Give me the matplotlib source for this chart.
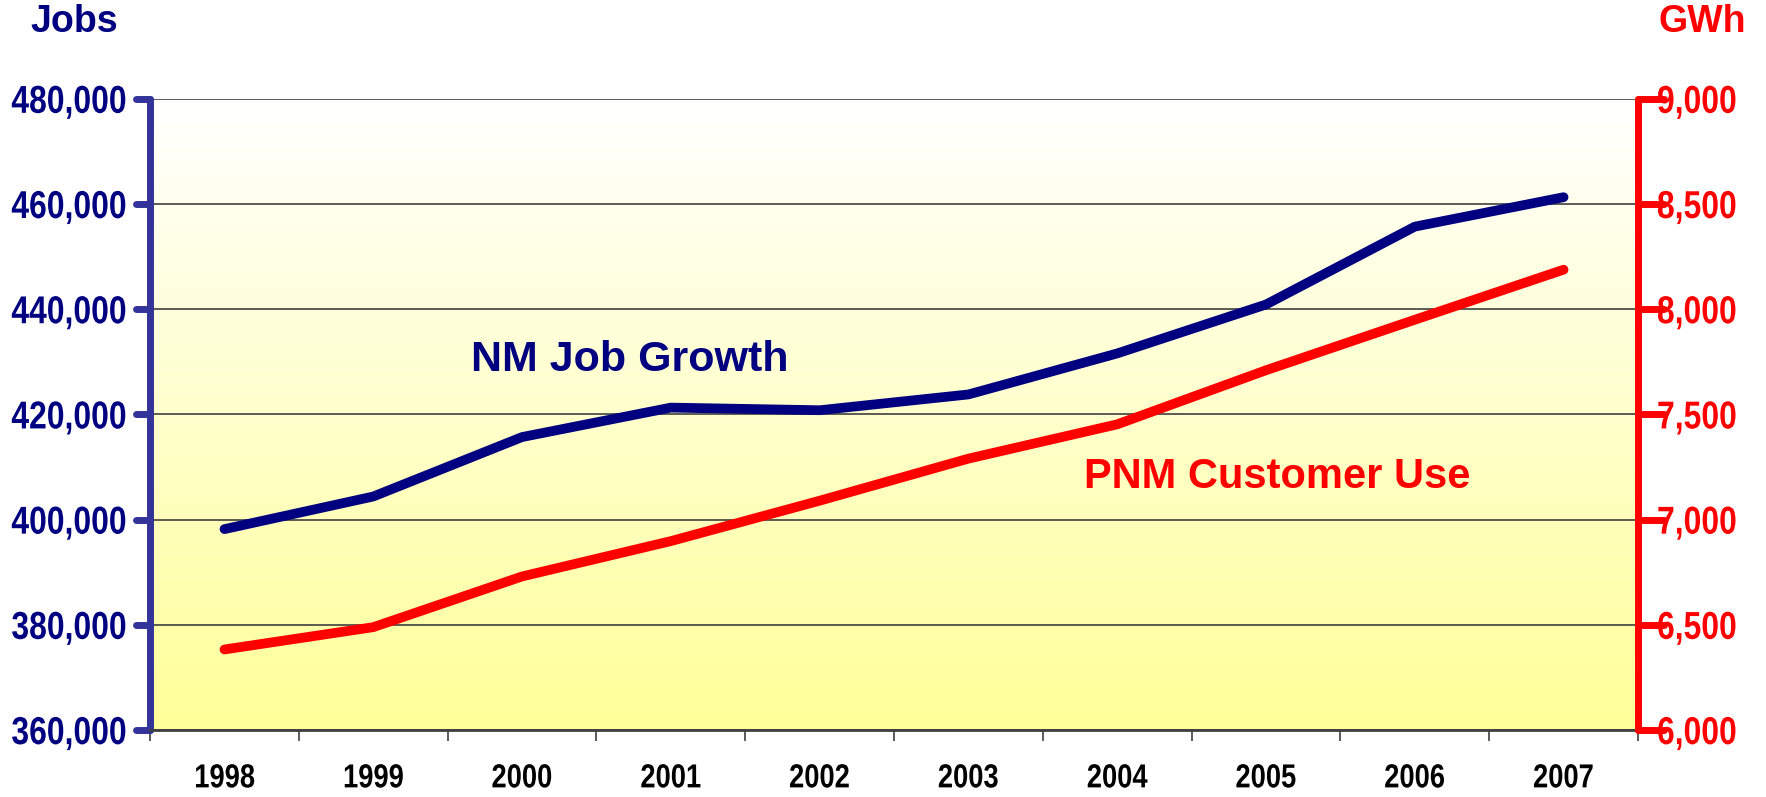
import numpy as np
import matplotlib
matplotlib.use("Agg")
import matplotlib.pyplot as plt
import matplotlib.lines as mlines
import matplotlib.patheffects as pe
from matplotlib.markers import MarkerStyle
from matplotlib.ticker import FuncFormatter
from matplotlib.transforms import Affine2D

years = ["1998", "1999", "2000", "2001", "2002", "2003", "2004", "2005", "2006", "2007"]
jobs = [398200, 404400, 415700, 421300, 420800, 423800, 431600, 440900, 455700, 461300]
gwh = [6383, 6489, 6730, 6898, 7090, 7290, 7453, 7710, 7950, 8188]

NAVY = "#000080"
AXBLUE = "#333399"
RED = "#FF0000"
FONT = ["Liberation Sans", "DejaVu Sans"]


class Squeeze(pe.AbstractPathEffect):
    """Narrow the glyphs horizontally (no Arial Narrow installed)."""

    def __init__(self, sx=0.82, anchor="left"):
        super().__init__()
        self.sx = sx
        self.anchor = anchor

    def draw_path(self, renderer, gc, tpath, affine, rgbFace=None):
        ext = tpath.get_extents()
        if self.anchor == "right":
            x0 = ext.x1
        elif self.anchor == "center":
            x0 = (ext.x0 + ext.x1) / 2
        else:
            x0 = ext.x0
        t = Affine2D().translate(-x0, 0).scale(self.sx, 1).translate(x0, 0) + affine
        renderer.draw_path(gc, tpath, t, rgbFace)


fig = plt.figure(figsize=(17.66, 7.97), dpi=100)
ax = fig.add_axes([0.085, 0.084, 0.8425, 0.792])
ax2 = ax.twinx()

x = np.arange(len(years))

# background gradient (white at top -> pale yellow at bottom)
grad = np.linspace(0, 1, 256).reshape(-1, 1)
top = np.array([1.0, 1.0, 1.0])
bot = np.array([1.0, 1.0, 0.6])
img = top + (bot - top) * grad[..., None]
ax.imshow(img, extent=[0, 1, 0, 1], transform=ax.transAxes,
          aspect="auto", origin="upper", zorder=0)

ax.plot(x, jobs, color=NAVY, lw=7, solid_capstyle="round",
        solid_joinstyle="round", zorder=3)
ax2.plot(x, gwh, color=RED, lw=7, solid_capstyle="round",
         solid_joinstyle="round", zorder=3)

ax.set_xlim(-0.5, 9.5)
ax.set_ylim(360000, 480000)
ax2.set_ylim(6000, 9000)
ax.set_yticks(np.arange(360000, 480001, 20000))
ax2.set_yticks(np.arange(6000, 9001, 500))

fmt = FuncFormatter(lambda v, p: f"{int(v):,}")
ax.yaxis.set_major_formatter(fmt)
ax2.yaxis.set_major_formatter(fmt)

# grid
ax.yaxis.grid(True, color="#404040", lw=1.2, zorder=1)
ax.set_axisbelow(True)

# x axis: labels at centers, ticks at category boundaries
ax.set_xticks(x)
ax.set_xticklabels(years)
ax.set_xticks(np.arange(-0.5, 10, 1), minor=True)
ax.tick_params(axis="x", which="major", length=0, pad=24)
ax.tick_params(axis="x", which="minor", length=8, width=1.2, color="#404040")
for lab in ax.get_xticklabels():
    lab.set_fontfamily(FONT)
    lab.set_fontweight("bold")
    lab.set_fontsize(24)
    lab.set_color("black")
    lab.set_path_effects([Squeeze(0.82, "center")])

# spines
ax.spines["top"].set_visible(False)
ax2.spines["top"].set_visible(False)
ax2.spines["left"].set_visible(False)
ax2.spines["bottom"].set_visible(False)
ax.spines["right"].set_visible(False)
ax.spines["bottom"].set_color("#404040")
ax.spines["bottom"].set_linewidth(2)
ax.spines["left"].set_color(AXBLUE)
ax.spines["left"].set_linewidth(5)
ax.spines["left"].set_capstyle("round")
ax2.spines["right"].set_color(RED)
ax2.spines["right"].set_linewidth(5)
ax2.spines["right"].set_capstyle("round")

# left labels are left-aligned at the figure margin (same digit count)
ax.tick_params(axis="y", direction="out", length=10, width=5,
               color=AXBLUE, pad=90, labelsize=28, labelcolor=NAVY)
ax2.tick_params(axis="y", direction="inout", length=19, width=5,
                color=RED, pad=4, labelsize=28, labelcolor=RED)
for lab in ax.get_yticklabels():
    lab.set_fontfamily(FONT)
    lab.set_fontweight("bold")
    lab.set_horizontalalignment("left")
    lab.set_path_effects([Squeeze(0.82, "left")])
for lab in ax2.get_yticklabels():
    lab.set_fontfamily(FONT)
    lab.set_fontweight("bold")
    lab.set_path_effects([Squeeze(0.82, "left")])

for t in ax.yaxis.get_major_ticks():
    t.tick1line.set_marker(MarkerStyle(mlines.TICKLEFT, capstyle="round"))
for t in ax2.yaxis.get_major_ticks():
    t.tick2line.set_marker(MarkerStyle(mlines.TICKRIGHT, capstyle="round"))

# series labels
ax.text(1.66, 430300, "NM Job Growth", color=NAVY, fontsize=31,
        fontweight="bold", family=FONT, va="center", ha="left", zorder=4)
ax.text(5.78, 408200, "PNM Customer Use", color=RED, fontsize=30,
        fontweight="bold", family=FONT, va="center", ha="left", zorder=4)

# axis titles
fig.text(0.042, 0.972, "Jobs", color=NAVY, fontsize=27, fontweight="bold",
         family=FONT, ha="center", va="center")
fig.text(0.964, 0.972, "GWh", color=RED, fontsize=27, fontweight="bold",
         family=FONT, ha="center", va="center")

fig.savefig("out.png", dpi=100)
